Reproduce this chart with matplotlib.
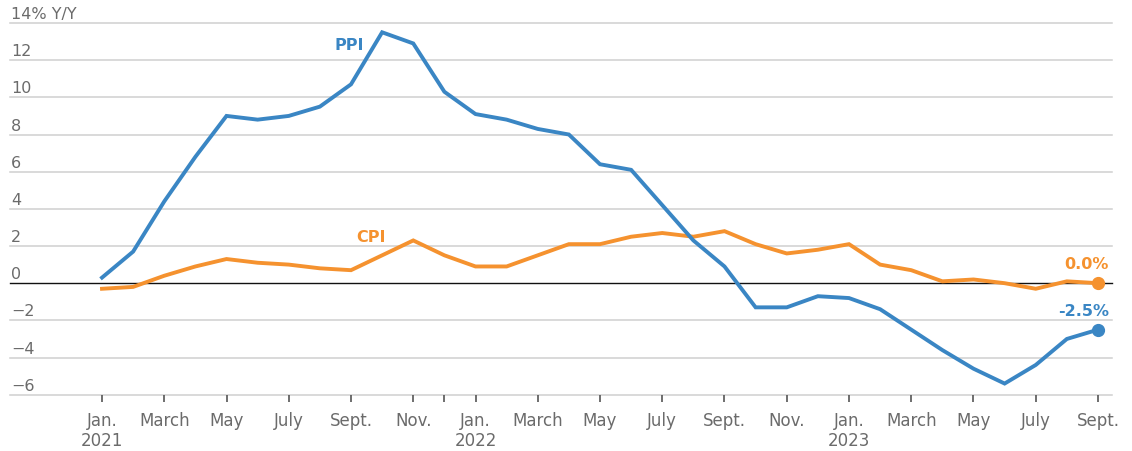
import matplotlib
matplotlib.use("Agg")
import matplotlib.pyplot as plt
from matplotlib.transforms import blended_transform_factory, offset_copy

plt.rcParams['font.family'] = ['DejaVu Sans']

# ---- data (Jan 2021 .. Sept 2023, monthly, % Y/Y) ----
months = ["Jan. 2021", "Feb. 2021", "March 2021", "April 2021", "May 2021", "June 2021",
          "July 2021", "Aug. 2021", "Sept. 2021", "Oct. 2021", "Nov. 2021", "Dec. 2021",
          "Jan. 2022", "Feb. 2022", "March 2022", "April 2022", "May 2022", "June 2022",
          "July 2022", "Aug. 2022", "Sept. 2022", "Oct. 2022", "Nov. 2022", "Dec. 2022",
          "Jan. 2023", "Feb. 2023", "March 2023", "April 2023", "May 2023", "June 2023",
          "July 2023", "Aug. 2023", "Sept. 2023"]
ppi = [0.3, 1.7, 4.4, 6.8, 9.0, 8.8, 9.0, 9.5, 10.7, 13.5, 12.9, 10.3,
       9.1, 8.8, 8.3, 8.0, 6.4, 6.1, 4.2, 2.3, 0.9, -1.3, -1.3, -0.7,
       -0.8, -1.4, -2.5, -3.6, -4.6, -5.4, -4.4, -3.0, -2.5]
cpi = [-0.3, -0.2, 0.4, 0.9, 1.3, 1.1, 1.0, 0.8, 0.7, 1.5, 2.3, 1.5,
       0.9, 0.9, 1.5, 2.1, 2.1, 2.5, 2.7, 2.5, 2.8, 2.1, 1.6, 1.8,
       2.1, 1.0, 0.7, 0.1, 0.2, 0.0, -0.3, 0.1, 0.0]
tick_pos = [0, 2, 4, 6, 8, 10, 11, 12, 14, 16, 18, 20, 22, 24, 26, 28, 30, 32]
tick_labels = ["Jan.\n2021", "March", "May", "July", "Sept.", "Nov.", "",
               "Jan.\n2022", "March", "May", "July", "Sept.", "Nov.",
               "Jan.\n2023", "March", "May", "July", "Sept."]
y_ticks = [-6, -4, -2, 0, 2, 4, 6, 8, 10, 12, 14]
y_tick_labels = ["\u22126", "\u22124", "\u22122", "0", "2", "4", "6", "8", "10", "12", "14% Y/Y"]

BLUE = "#3a86c4"
ORANGE = "#f5922f"
GRID = "#cfcfcf"
TXT = "#6b6b6b"

W, H = 1132, 452
fig = plt.figure(figsize=(W / 100, H / 100), dpi=100)
left_px, right_px, top_px, bot_px = 10, 1112, 24, 395.7
ax = fig.add_axes([left_px / W, (H - bot_px) / H, (right_px - left_px) / W, (bot_px - top_px) / H])

x = list(range(len(months)))
ax.set_xlim(-2.956, 32.45)
ax.set_ylim(-6, 14)

for s in ax.spines.values():
    s.set_visible(False)

# gridlines
for v in y_ticks:
    if v == 0:
        continue
    ax.axhline(v, color=GRID, lw=1.1, zorder=1, clip_on=False)
ax.axhline(0, color="#111111", lw=1.0, zorder=2, clip_on=False)

# y labels drawn above gridlines, left-aligned
trans = blended_transform_factory(ax.transAxes, ax.transData)
trans_up = offset_copy(trans, fig=fig, x=1, y=5, units='dots')
for v, lab in zip(y_ticks, y_tick_labels):
    ax.text(0.0, v, lab, transform=trans_up, ha='left', va='baseline',
            fontsize=11.5, color=TXT)
ax.set_yticks([])

# lines
ax.plot(x, cpi, color=ORANGE, lw=2.8, zorder=3, solid_joinstyle='miter', clip_on=False)
ax.plot(x, ppi, color=BLUE, lw=2.8, zorder=4, solid_joinstyle='miter', clip_on=False)
ax.plot(x[-1], cpi[-1], 'o', color=ORANGE, ms=8.5, zorder=5, clip_on=False)
ax.plot(x[-1], ppi[-1], 'o', color=BLUE, ms=8.5, zorder=5, clip_on=False)

# x ticks
ax.set_xticks(tick_pos)
ax.set_xticklabels(tick_labels, fontsize=12, color=TXT, linespacing=1.15)
ax.tick_params(axis='x', length=5, width=1.2, color="#555555", pad=7)

# series labels
ax.text(8.43, 12.59, "PPI", color=BLUE, fontsize=11.5, fontweight='bold', ha='right', va='baseline')
ax.text(9.12, 2.26, "CPI", color=ORANGE, fontsize=11.5, fontweight='bold', ha='right', va='baseline')
ax.annotate(f"{cpi[-1]:.1f}%", (x[-1], cpi[-1]), xytext=(11, 15), textcoords='offset pixels',
            ha='right', va='baseline', color=ORANGE, fontsize=11.5, fontweight='bold')
ax.annotate(f"{ppi[-1]:.1f}%", (x[-1], ppi[-1]), xytext=(11, 15), textcoords='offset pixels',
            ha='right', va='baseline', color=BLUE, fontsize=11.5, fontweight='bold')

fig.savefig("out.png", dpi=100)
